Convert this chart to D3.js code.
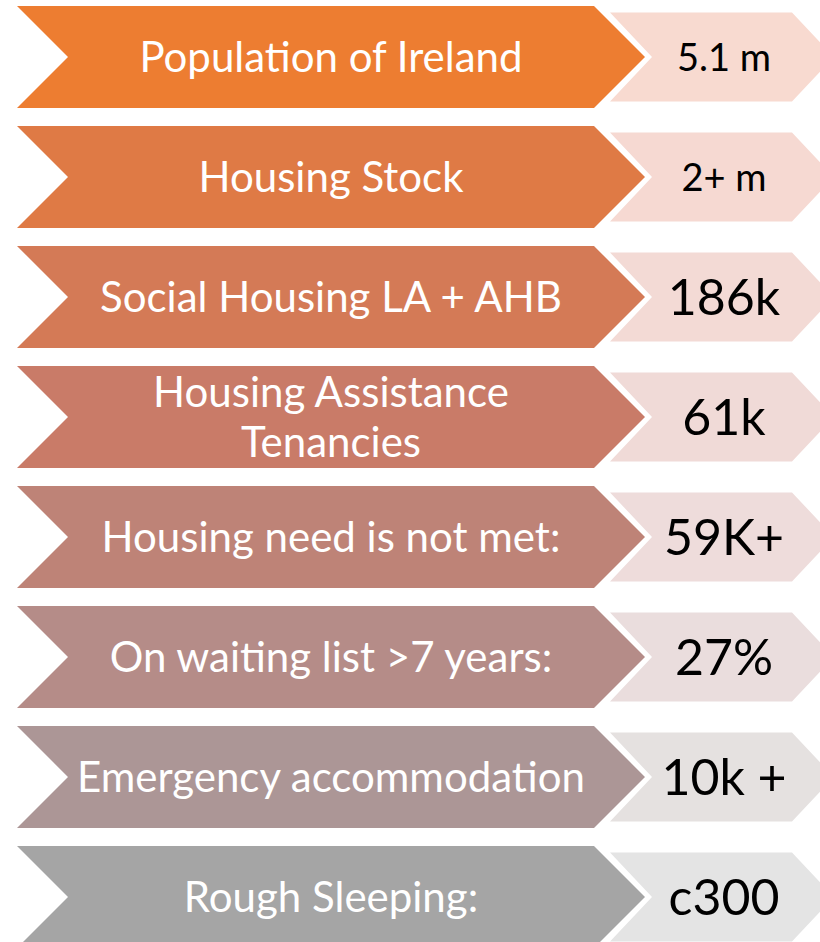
<!DOCTYPE html>
<html>
<head>
<meta charset="utf-8">
<script src="https://cdn.jsdelivr.net/npm/d3@7/dist/d3.min.js"></script>
<style>
  html, body { margin: 0; padding: 0; background: #ffffff; }
  svg { display: block; }
</style>
</head>
<body>
<svg id="chart" width="820" height="942"></svg>
<script>
// ---- data ----
const categories = [
  "Population of Ireland",
  "Housing Stock",
  "Social Housing LA + AHB",
  "Housing Assistance\nTenancies",
  "Housing need is not met:",
  "On waiting list >7 years:",
  "Emergency accommodation",
  "Rough Sleeping:"
];
const values = ["5.1 m", "2+ m", "186k", "61k", "59K+", "27%", "10k +", "c300"];

// ---- styles ----
const mainColors  = ["#ED7D31", "#DF7A45", "#D47A56", "#C97B68", "#BE8377", "#B58C88", "#AC9696", "#A5A5A5"];
const lightColors = ["#F8DAD0", "#F6D9D2", "#F3DAD5", "#F0DAD7", "#EEDCDB", "#EADDDD", "#E5E1E0", "#E4E4E4"];
const smallValueRows = new Set([0, 1]);
const FONT = "Lato, 'Open Sans', sans-serif";
const CAP = 0.7165; // cap height ratio of the font

const W = 820, H = 942;
const svg = d3.select("#chart");

const rows = categories.map((c, i) => ({ i, label: c, value: values[i] }));

const y = d3.scaleBand()
  .domain(d3.range(categories.length))
  .range([6, 948])
  .paddingInner(0.15)
  .paddingOuter(0);

// horizontal layout
const main = { x0: 17, xR: 594 };
const light = { x0: 610, xR: 792, inset: 6.5, depth: 42 };

function chevron(x0, xR, top, h, d) {
  const mid = top + h / 2, bot = top + h;
  return `M${x0},${top}L${xR},${top}L${xR + d},${mid}L${xR},${bot}L${x0},${bot}L${x0 + d},${mid}Z`;
}

const g = svg.selectAll("g.row").data(rows).join("g").attr("class", "row");

// main chevrons
g.append("path")
  .attr("d", d => {
    const h = y.bandwidth();
    return chevron(main.x0, main.xR, y(d.i), h, h / 2);
  })
  .attr("fill", d => mainColors[d.i]);

// value chevrons
g.append("path")
  .attr("d", d => {
    const h = y.bandwidth() - 2 * light.inset;
    return chevron(light.x0, light.xR, y(d.i) + light.inset, h, light.depth);
  })
  .attr("fill", d => lightColors[d.i]);

// labels
const labelSize = 42;
const labelCx = (main.x0 + y.bandwidth() / 2 + main.xR) / 2;
g.each(function(d) {
  const lines = d.label.split("\n");
  const cy = y(d.i) + y.bandwidth() / 2;
  const lh = 50;
  const t = d3.select(this).append("text")
    .attr("text-anchor", "middle")
    .attr("fill", "#ffffff")
    .style("font-family", FONT)
    .style("font-size", labelSize + "px");
  lines.forEach((ln, k) => {
    const off = (k - (lines.length - 1) / 2) * lh;
    t.append("tspan")
      .attr("x", labelCx)
      .attr("y", cy + off + labelSize * CAP / 2)
      .text(ln);
  });
});

// values
const valueCx = (light.x0 + light.depth + light.xR) / 2 + 2;
g.append("text")
  .attr("text-anchor", "middle")
  .attr("fill", "#000000")
  .style("font-family", FONT)
  .style("font-size", d => (smallValueRows.has(d.i) ? 38 : 50) + "px")
  .attr("x", valueCx)
  .attr("y", d => {
    const s = smallValueRows.has(d.i) ? 38 : 50;
    return y(d.i) + y.bandwidth() / 2 + s * CAP / 2;
  })
  .text(d => d.value);
</script>
</body>
</html>
